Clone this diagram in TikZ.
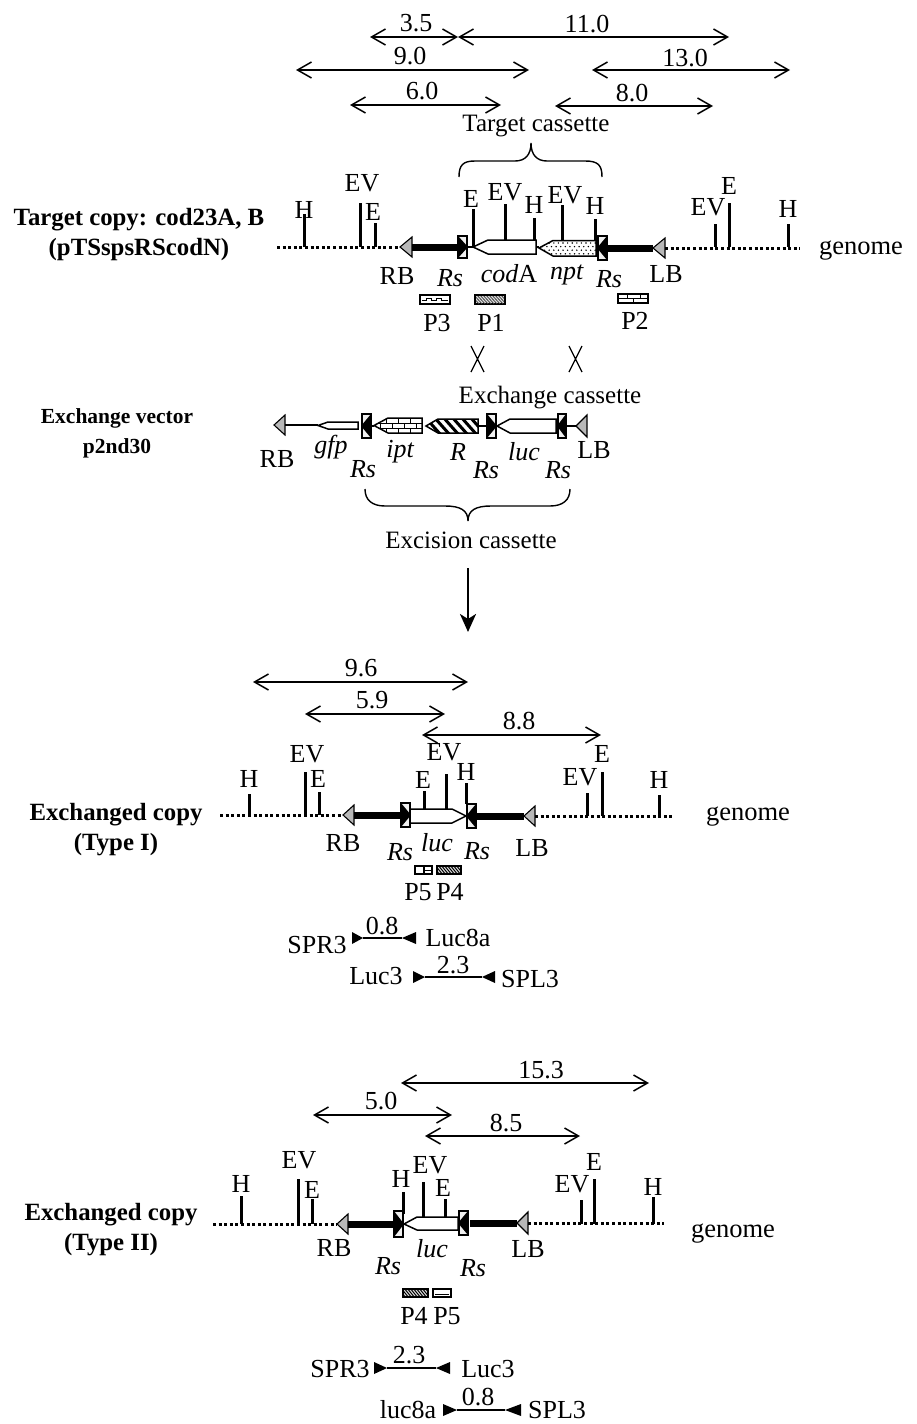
\documentclass[tikz,border=0pt]{standalone}
\usepackage{fontspec}
\setmainfont{Liberation Serif}
\usetikzlibrary{arrows.meta}
\tikzset{
 lbl/.style={inner sep=0pt,font=\fontsize{26}{30}\selectfont},
 lblc/.style={inner sep=0pt,font=\fontsize{25}{30}\selectfont},
 gen/.style={inner sep=0pt,font=\fontsize{26.5}{30}\selectfont},
 bold/.style={inner sep=0pt,font=\fontsize{24.8}{30}\selectfont\bfseries,align=center},
 boldb/.style={inner sep=0pt,font=\fontsize{21.5}{30}\selectfont\bfseries,align=center},
 dimline/.style={line width=1.5pt,{Straight Barb[length=14pt,width=16pt,line width=1.5pt]}-{Straight Barb[length=14pt,width=16pt,line width=1.5pt]}},
 tickline/.style={line width=3pt},
 dotline/.style={line width=3pt,dash pattern=on 3pt off 2.6pt},
 thickline/.style={line width=7pt},
 thinline/.style={line width=1.5pt},
 genebox/.style={draw=black,line width=1.5pt,fill=white,line join=miter},
 border/.style={draw=black,line width=1.1pt,fill=black!28},
 rsframe/.style={draw=black,line width=1.2pt,fill=black!6},
 probe/.style={draw=black,line width=2.6pt,fill=white},
 probethin/.style={draw=black,line width=1.6pt,fill=white},
 bracepath/.style={line width=1.4pt},
}
\newcommand{\lab}[4]{\node[lbl] (#1) at (#2,#3) {#4};}
\newcommand{\tick}[4]{\coordinate (#1t) at (#2,#3);\coordinate (#1b) at (#2,#4);\draw[tickline] (#1t) -- (#1b);}
\newcommand{\dimarrow}[7]{\coordinate (#1a) at (#2,#4);\coordinate (#1b) at (#3,#4);\draw[dimline] (#1a) -- (#1b);\node[lbl] (#1l) at (#5,#6) {#7};}
\newcommand{\rsR}[5]{\draw[rsframe] (#2,#4) rectangle (#3,#5);\fill (#2,#4) -- (#3+1,{(#4+#5)/2}) -- (#2,#5) -- cycle;\coordinate (#1l) at (#2,{(#4+#5)/2});\coordinate (#1r) at (#3,{(#4+#5)/2});}
\newcommand{\rsL}[5]{\draw[rsframe] (#2,#4) rectangle (#3,#5);\fill (#3,#4) -- (#2-1,{(#4+#5)/2}) -- (#3,#5) -- cycle;\coordinate (#1l) at (#2,{(#4+#5)/2});\coordinate (#1r) at (#3,{(#4+#5)/2});}
\newcommand{\bord}[5]{\draw[border,line join=miter] (#2,{(#4+#5)/2}) -- (#3,#4) -- (#3,#5) -- cycle;\coordinate (#1t) at (#2,{(#4+#5)/2});\coordinate (#1b) at (#3,{(#4+#5)/2});}
\newcommand{\primers}[6]{\fill (#2,#6-6) -- (#3,#6) -- (#2,#6+6) -- cycle;\fill (#5,#6-6) -- (#4,#6) -- (#5,#6+6) -- cycle;\coordinate (#1a) at (#3,#6);\coordinate (#1b) at (#4,#6);\draw[line width=2pt] (#1a) -- (#1b);}
\begin{document}
\begin{tikzpicture}[x=1pt,y=-1pt]
\useasboundingbox (0,0) rectangle (916,1424);
% ---------- top dimensions
\dimarrow{da}{370}{458}{37}{416}{23}{3.5}
\dimarrow{db}{458}{729}{37}{587}{24}{11.0}
\dimarrow{dc}{296}{529}{70}{410}{56}{9.0}
\dimarrow{dd}{592}{790}{70}{685}{58}{13.0}
\dimarrow{de}{350}{501}{105}{422}{91}{6.0}
\dimarrow{df}{555}{713}{106}{632}{93}{8.0}
\node[lblc] (tc) at (536,126) {Target cassette};
\draw[bracepath] (459,177) .. controls (459,165) and (463,161) .. (475,161) -- (515,161) .. controls (525,161) and (531,155) .. (531,143) .. controls (531,155) and (537,161) .. (547,161) -- (585,161) .. controls (598,161) and (602,165) .. (602,177);
% ---------- target row
\node[bold] (tname) at (139,235) {Target copy: cod23A, B\\(pTSspsRScodN)};
\node[gen] (tgen) at (861,251) {genome};
\coordinate (tdl) at (277,247);\coordinate (tdr) at (800,248);
\bord{trb}{400}{412}{237}{257}
\bord{tlb}{653}{665}{238}{258}
\draw[dotline] (tdl) -- (trbt);
\draw[dotline] (tlbb) -- (tdr);
\tick{t1}{304}{214}{247}\tick{t2}{360}{203}{247}\tick{t3}{375}{223}{247}
\tick{t4}{473}{209}{247}\tick{t5}{505}{204}{241}\tick{t6}{534}{218}{241}\tick{t7}{562}{205}{241}\tick{t8}{595}{219}{241}
\tick{t9}{715}{224}{247}\tick{t10}{729}{203}{247}\tick{t11}{788}{224}{247}
\lab{th1}{304}{210}{H}\lab{tev1}{362}{183}{EV}\lab{te1}{373}{212}{E}
\lab{te2}{471}{199}{E}\lab{tev2}{505}{192}{EV}\lab{th2}{534}{205}{H}\lab{tev3}{565}{195}{EV}\lab{th3}{595}{206}{H}
\lab{tev4}{708}{207}{EV}\lab{te3}{729}{186}{E}\lab{th4}{788}{209}{H}
\rsR{trs1}{458}{467}{236}{258}
\rsL{trs2}{598}{607}{236}{260}
\draw[thickline] (trbb) -- (trs1l);
\draw[thickline] (trs2r) -- (tlbt);
\coordinate (tcodt) at (473,247);\coordinate (tcodr) at (536,247);\coordinate (tnptt) at (539,247);\coordinate (tnptr) at (596,248);
\draw[line width=2.4pt] (trs1r) -- (tcodt);
\draw[line width=2.4pt] (tcodr) -- (tnptt);
\draw[line width=2.4pt] (tnptr) -- (trs2l);
\draw[genebox] (473,247) -- (488,240) -- (536,240) -- (536,254) -- (488,254) -- cycle;
\draw[genebox] (539,248) -- (553,240.5) -- (596,240.5) -- (596,256) -- (553,256) -- cycle;
\begin{scope}
 \clip (539,248) -- (553,240.5) -- (596,240.5) -- (596,256) -- (553,256) -- cycle;
 \foreach \i in {0,...,12}{\foreach \j in {0,1,2,3}{\fill ({540+\i*4.6+mod(\j,2)*2.3},{243+\j*3.6}) circle (0.8);}}
\end{scope}
\lab{trb2}{397}{276}{RB}
\lab{trs3}{450}{278}{\itshape Rs}
\lab{tcod}{509}{274}{\textit{cod}A}
\lab{tnpt}{567}{275}{\textit{npt}}
\lab{trs4}{609}{279}{\itshape Rs}
\lab{tlb2}{666}{274}{LB}
% probes
\draw[probe] (420,295) rectangle (450,304);
\draw[line width=1pt] (422,300) -- (426,300) -- (426,298) -- (431,298) -- (431,300) -- (436,300) -- (436,298) -- (441,298) -- (441,300) -- (448,300);
\draw[probe,fill=black!12] (475,295) rectangle (505,304);
\begin{scope}\clip (476,296) rectangle (504,303);
 \foreach \x in {470,473,...,506}{\draw[line width=.8pt,black!75] (\x,294) -- (\x+10,305);}
\end{scope}
\draw[probe] (618,294) rectangle (648,303);
\draw[line width=1pt] (618,298.5) -- (648,298.5);\draw[line width=1pt] (627,295) -- (627,298);\draw[line width=1pt] (640,295) -- (640,298);\draw[line width=1pt] (633,299) -- (633,303);
\lab{pa}{437}{323}{P3}\lab{pb}{491}{323}{P1}\lab{pc}{635}{321}{P2}
% crossovers
\coordinate (xa1) at (471,346);\coordinate (xa2) at (484,372);\coordinate (xa3) at (484,346);\coordinate (xa4) at (471,372);
\draw[line width=1.2pt] (xa1) -- (xa2) (xa3) -- (xa4);
\coordinate (xb1) at (569,346);\coordinate (xb2) at (582,372);\coordinate (xb3) at (582,346);\coordinate (xb4) at (569,372);
\draw[line width=1.2pt] (xb1) -- (xb2) (xb3) -- (xb4);
% ---------- exchange vector
\node[lblc] (ec) at (550,398) {Exchange cassette};
\node[boldb] (ename) at (117,433) {Exchange vector\\p2nd30};
\bord{erb}{274}{285}{415}{435}
\bord{elb}{576}{587}{415}{437}
\coordinate (eg) at (318,425);\coordinate (eip) at (374,426);\coordinate (erl) at (478,426);\coordinate (elu) at (497,426);
\draw[thinline] (erbb) -- (eg);
\rsL{ers1}{362}{371}{414}{438}
\rsR{ers2}{487}{496}{414}{438}
\rsL{ers3}{558}{566}{414}{438}
\draw[genebox] (318,425.5) -- (328,422) -- (358,422) -- (358,429) -- (328,429) -- cycle;
\draw[thinline] (ers1r) -- (eip);
\draw[thinline] (erl) -- (ers2l);
\draw[thinline] (ers2r) -- (elu);
\draw[line width=1.8pt] (ers3r) -- (elbt);
% ipt
\draw[genebox] (374,425.5) -- (388,418) -- (422,418) -- (422,433) -- (388,433) -- cycle;
\begin{scope}\clip (374,425.5) -- (388,418) -- (422,418) -- (422,433) -- (388,433) -- cycle;
 \draw[line width=1pt] (370,423) -- (425,423) (370,428) -- (425,428);
 \foreach \x in {386,398,410}{\draw[line width=1pt] (\x,418) -- (\x,423) (\x,428) -- (\x,433);}
 \foreach \x in {380,392,404,416}{\draw[line width=1pt] (\x,423) -- (\x,428);}
\end{scope}
% R
\draw[genebox] (426,426) -- (438,419) -- (478,419) -- (478,433) -- (438,433) -- cycle;
\begin{scope}\clip (426,426) -- (438,419) -- (478,419) -- (478,433) -- (438,433) -- cycle;
 \foreach \x in {416,425,...,480}{\draw[line width=3pt] (\x,417) -- (\x+16,435);}
\end{scope}
% luc
\draw[genebox] (497,426) -- (510,419) -- (556,419) -- (556,433) -- (510,433) -- cycle;
\lab{erb2}{277}{459}{RB}\lab{egfp}{331}{447}{\itshape gfp}\lab{ers4}{363}{469}{\itshape Rs}\lab{eipt}{400}{452}{\itshape ipt}\lab{eR}{458}{452}{\itshape R}\lab{ers5}{486}{470}{\itshape Rs}\lab{eluc}{524}{452}{\itshape luc}\lab{ers6}{558}{470}{\itshape Rs}\lab{elb2}{594}{450}{LB}
\draw[bracepath] (365,489) .. controls (365,500) and (372,506) .. (385,506) -- (445,506) .. controls (460,506) and (468,510) .. (468,521) .. controls (468,510) and (476,506) .. (491,506) -- (550,506) .. controls (563,506) and (570,500) .. (570,489);
\node[lblc] (xc) at (471,540) {Excision cassette};
\coordinate (aa) at (468,568);\coordinate (ab) at (468,632);
\draw[line width=2.6pt,-{Stealth[length=18pt,width=16pt,inset=5pt]}] (aa) -- (ab);
% ---------- Type I
\dimarrow{ia}{253}{468}{682}{361}{668}{9.6}
\dimarrow{ib}{305}{445}{714}{372}{700}{5.9}
\dimarrow{ic}{422}{601}{735}{519}{721}{8.8}
\node[bold] (iname) at (116,830) {Exchanged copy\\(Type I)};
\node[gen] (igen) at (748,817) {genome};
\coordinate (idl) at (220,815);\coordinate (idr) at (672,816);
\bord{irb}{343}{354}{805}{825}
\bord{ilb}{524}{535}{806}{826}
\draw[dotline] (idl) -- (irbt);
\draw[dotline] (ilbb) -- (idr);
\tick{i1}{249}{794}{815}\tick{i2}{305}{772}{815}\tick{i3}{319}{792}{815}
\tick{i4}{424}{791}{809}\tick{i5}{446}{774}{809}\tick{i6}{466}{783}{804}
\tick{i7}{587}{793}{816}\tick{i8}{602}{772}{816}\tick{i9}{659}{795}{816}
\lab{ih1}{249}{779}{H}\lab{iev1}{307}{754}{EV}\lab{ie1}{318}{779}{E}
\lab{ie2}{423}{780}{E}\lab{iev2}{444}{752}{EV}\lab{ih2}{466}{772}{H}
\lab{iev3}{580}{777}{EV}\lab{ie3}{602}{754}{E}\lab{ih3}{659}{780}{H}
\rsR{irs1}{401}{410}{803}{827}
\rsL{irs2}{467}{476}{804}{828}
\draw[thickline] (irbb) -- (irs1l);
\draw[thickline] ([xshift=1pt]irs2r) -- (ilbt);
\draw[genebox] (410,809) -- (452,809) -- (466,816) -- (452,823) -- (410,823) -- cycle;
\lab{irb2}{343}{843}{RB}\lab{irs3}{400}{852}{\itshape Rs}\lab{iluc}{437}{843}{\itshape luc}\lab{irs4}{477}{851}{\itshape Rs}\lab{ilb2}{532}{848}{LB}
\draw[probethin] (415,866) rectangle (432,874);\draw[line width=1.1pt] (424,866) -- (424,874);\draw[line width=.8pt] (424,870) -- (432,870);
\draw[probethin,fill=black!15] (437,866) rectangle (461,874);
\begin{scope}\clip (437,866) rectangle (461,874);\foreach \x in {432,435,...,462}{\draw[line width=1pt] (\x,865) -- (\x+8,875);}\end{scope}
\lab{ip5}{418}{892}{P5}\lab{ip4}{450}{892}{P4}
\primers{ipa}{352}{363}{402}{416}{938}
\primers{ipb}{413}{425}{482}{495}{977}
\lab{il1}{317}{945}{SPR3}\lab{il2}{382}{926}{0.8}\lab{il3}{458}{938}{Luc8a}
\lab{il4}{376}{976}{Luc3}\lab{il5}{453}{965}{2.3}\lab{il6}{530}{979}{SPL3}
% ---------- Type II
\dimarrow{ja}{401}{649}{1083}{541}{1070}{15.3}
\dimarrow{jb}{313}{452}{1115}{381}{1101}{5.0}
\dimarrow{jc}{425}{580}{1136}{506}{1123}{8.5}
\node[bold] (jname) at (111,1230) {Exchanged copy\\(Type II)};
\node[gen] (jgen) at (733,1234) {genome};
\coordinate (jdl) at (213,1224);\coordinate (jdr) at (664,1223);
\bord{jrb}{337}{348}{1214}{1234}
\bord{jlb}{517}{528}{1212}{1234}
\draw[dotline] (jdl) -- (jrbt);
\draw[dotline] (jlbb) -- (jdr);
\tick{j1}{241}{1196}{1224}\tick{j2}{298}{1179}{1224}\tick{j3}{312}{1199}{1224}
\tick{j4}{403}{1192}{1214}\tick{j5}{423}{1182}{1217}\tick{j6}{445}{1199}{1217}
\tick{j7}{581}{1200}{1224}\tick{j8}{594}{1179}{1224}\tick{j9}{653}{1197}{1224}
\lab{jh1}{241}{1184}{H}\lab{jev1}{299}{1160}{EV}\lab{je1}{312}{1190}{E}
\lab{jh2}{401}{1179}{H}\lab{jev2}{430}{1165}{EV}\lab{je2}{443}{1188}{E}
\lab{jev3}{572}{1184}{EV}\lab{je3}{594}{1162}{E}\lab{jh3}{653}{1187}{H}
\rsR{jrs1}{394}{403}{1211}{1237}
\rsL{jrs2}{459}{468}{1211}{1235}
\draw[thickline] (jrbb) -- (jrs1l);
\draw[thickline] ([xshift=2pt]jrs2r) -- (jlbt);
\draw[genebox] (404,1224) -- (417,1217) -- (458,1217) -- (458,1230) -- (417,1230) -- cycle;
\lab{jrb2}{334}{1248}{RB}\lab{jluc}{432}{1249}{\itshape luc}\lab{jrs3}{388}{1266}{\itshape Rs}\lab{jrs4}{473}{1268}{\itshape Rs}\lab{jlb2}{528}{1249}{LB}
\draw[probethin,fill=black!15] (403,1289) rectangle (428,1297);
\begin{scope}\clip (403,1289) rectangle (428,1297);\foreach \x in {398,401,...,430}{\draw[line width=1pt] (\x,1288) -- (\x+8,1298);}\end{scope}
\draw[probethin] (433,1289) rectangle (451,1297);\draw[line width=1pt] (435,1294) -- (449,1294);
\lab{jp4}{414}{1316}{P4}\lab{jp5}{447}{1316}{P5}
\primers{jpa}{374}{387}{436}{450}{1368}
\primers{jpb}{443}{457}{505}{521}{1410}
\lab{jl1}{340}{1369}{SPR3}\lab{jl2}{409}{1355}{2.3}\lab{jl3}{488}{1369}{Luc3}
\lab{jl4}{408}{1410}{luc8a}\lab{jl5}{478}{1397}{0.8}\lab{jl6}{557}{1410}{SPL3}
\end{tikzpicture}
\end{document}
